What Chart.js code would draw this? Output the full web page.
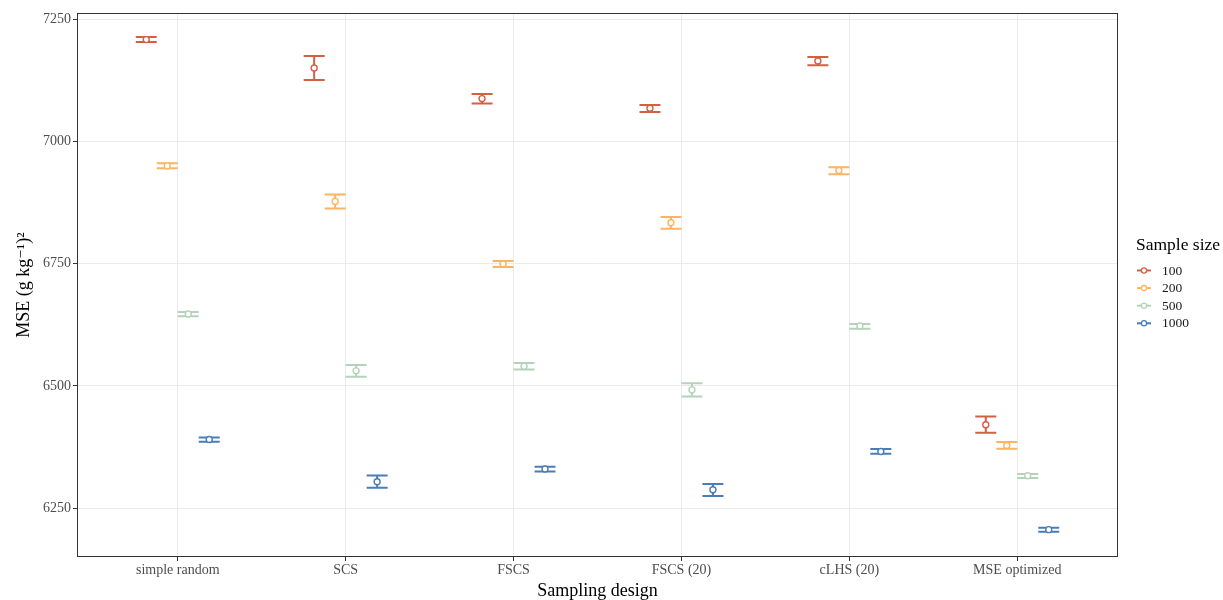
<!DOCTYPE html>
<html>
<head>
<meta charset="utf-8">
<title>MSE by sampling design</title>
<script src="https://cdn.jsdelivr.net/npm/chart.js@4/dist/chart.umd.min.js"></script>
<style>
  html, body { margin: 0; padding: 0; background: #ffffff; }
  #wrap { width: 1223px; height: 600px; }
</style>
</head>
<body>
<div id="wrap"><canvas id="chart" width="1223" height="600"></canvas></div>
<script>
// Sampling designs on the x axis
const categories = ['simple random', 'SCS', 'FSCS', 'FSCS (20)', 'cLHS (20)', 'MSE optimized'];
// Sample sizes (one series each)
const sampleSizes = ['100', '200', '500', '1000'];
const seriesColors = ['#d35f45', '#fdb462', '#b5d2ba', '#4a7db5'];

// Mean MSE and interval bounds per design, one set per sample size
const mean100  = [7208.5, 7150.3, 7087.8, 7068.0, 7164.6, 6420.3];
const lower100 = [7203.4, 7125.8, 7077.6, 7060.4, 7155.8, 6404.0];
const upper100 = [7213.6, 7174.8, 7097.2, 7074.7, 7172.8, 6437.3];

const mean200  = [6950.0, 6877.4, 6749.3, 6833.6, 6940.7, 6378.0];
const lower200 = [6945.4, 6863.1, 6743.1, 6821.4, 6933.1, 6371.3];
const upper200 = [6955.6, 6891.7, 6755.4, 6845.3, 6947.4, 6385.0];

const mean500  = [6647.0, 6530.7, 6540.3, 6491.8, 6622.6, 6316.1];
const lower500 = [6642.4, 6518.4, 6533.3, 6478.2, 6617.0, 6311.4];
const upper500 = [6651.0, 6542.9, 6547.0, 6505.5, 6626.7, 6319.6];

const mean1000  = [6390.3, 6303.9, 6329.8, 6287.5, 6365.8, 6205.8];
const lower1000 = [6385.6, 6291.6, 6325.0, 6274.7, 6361.0, 6201.3];
const upper1000 = [6394.4, 6316.8, 6334.5, 6299.2, 6370.7, 6209.9];

// Y axis tick labels
const yTicks = [6250, 6500, 6750, 7000, 7250];

const means  = [mean100, mean200, mean500, mean1000];
const lowers = [lower100, lower200, lower500, lower1000];
const uppers = [upper100, upper200, upper500, upper1000];

// Dodge layout: four groups share half a category slot
const dodgeWidth = 0.5;
const groupWidth = dodgeWidth / sampleSizes.length;
const offsetFor = k => (k - (sampleSizes.length - 1) / 2) * groupWidth;

const SERIF = '"Liberation Serif", "DejaVu Serif", serif';

const datasets = sampleSizes.map((label, k) => ({
  label: label,
  data: categories.map((c, i) => ({ x: i + 1 + offsetFor(k), y: means[k][i] })),
  lower: lowers[k],
  upper: uppers[k],
  borderColor: seriesColors[k],
  backgroundColor: '#ffffff',
  pointRadius: 3,
  pointBorderWidth: 1.4,
  pointHoverRadius: 3,
  showLine: false
}));

// Draws the vertical interval and its caps beneath each point
const errorBars = {
  id: 'errorBars',
  beforeDatasetsDraw(chart) {
    const ctx = chart.ctx;
    const xs = chart.scales.x, ys = chart.scales.y;
    const capHalf = (xs.getPixelForValue(groupWidth) - xs.getPixelForValue(0)) / 2;
    ctx.save();
    chart.data.datasets.forEach((ds, k) => {
      ctx.strokeStyle = ds.borderColor;
      ctx.lineWidth = 2;
      ctx.lineCap = 'butt';
      ds.data.forEach((pt, i) => {
        const px = xs.getPixelForValue(pt.x);
        const yl = ys.getPixelForValue(ds.lower[i]);
        const yu = ys.getPixelForValue(ds.upper[i]);
        ctx.beginPath();
        ctx.moveTo(px, yu); ctx.lineTo(px, yl);
        ctx.moveTo(px - capHalf, yu); ctx.lineTo(px + capHalf, yu);
        ctx.moveTo(px - capHalf, yl); ctx.lineTo(px + capHalf, yl);
        ctx.stroke();
      });
    });
    ctx.restore();
  }
};

// Panel border and the sample-size key on the right
const panelAndKey = {
  id: 'panelAndKey',
  afterDraw(chart) {
    const ctx = chart.ctx;
    const a = chart.chartArea;
    ctx.save();
    ctx.strokeStyle = '#333333';
    ctx.lineWidth = 1;
    ctx.strokeRect(Math.round(a.left) + 0.5, Math.round(a.top) + 0.5,
                   Math.round(a.right - a.left) - 1, Math.round(a.bottom - a.top) - 1);

    const kx = a.right + 18;
    ctx.fillStyle = '#000000';
    ctx.font = '17.5px ' + SERIF;
    ctx.textBaseline = 'alphabetic';
    ctx.textAlign = 'left';
    ctx.fillText('Sample size', kx, 250);

    ctx.font = '13.5px ' + SERIF;
    ctx.textBaseline = 'middle';
    sampleSizes.forEach((label, k) => {
      const y = 270.5 + k * 17.6;
      ctx.strokeStyle = seriesColors[k];
      ctx.lineWidth = 2;
      ctx.beginPath();
      ctx.moveTo(kx + 1, y); ctx.lineTo(kx + 15, y);
      ctx.stroke();
      ctx.beginPath();
      ctx.arc(kx + 8, y, 2.6, 0, Math.PI * 2);
      ctx.fillStyle = '#ffffff';
      ctx.fill();
      ctx.lineWidth = 1.3;
      ctx.stroke();
      ctx.fillStyle = '#1a1a1a';
      ctx.fillText(label, kx + 26, y + 0.5);
    });
    ctx.restore();
  }
};

new Chart(document.getElementById('chart'), {
  type: 'scatter',
  data: { datasets: datasets },
  plugins: [errorBars, panelAndKey],
  options: {
    responsive: false,
    animation: false,
    events: [],
    layout: { padding: { left: 0, right: 105, top: 13, bottom: 0 } },
    plugins: {
      legend: { display: false },
      tooltip: { enabled: false }
    },
    scales: {
      x: {
        type: 'linear',
        min: 0.4,
        max: categories.length + 0.6,
        afterBuildTicks(scale) {
          scale.ticks = categories.map((c, i) => ({ value: i + 1 }));
        },
        afterFit(scale) { scale.height = 43; },
        ticks: {
          autoSkip: false,
          maxRotation: 0,
          padding: 1,
          color: '#4d4d4d',
          font: { family: SERIF, size: 14 },
          callback: (v) => categories[Math.round(v) - 1]
        },
        grid: {
          color: '#ebebeb',
          lineWidth: 1,
          tickLength: 4,
          tickColor: '#333333'
        },
        border: { display: false },
        title: {
          display: true,
          text: 'Sampling design',
          color: '#000000',
          font: { family: SERIF, size: 18, lineHeight: 1 },
          padding: { top: 0, bottom: 0 }
        }
      },
      y: {
        min: 6149.8,
        max: 7262.9,
        afterBuildTicks(scale) {
          scale.ticks = yTicks.map(v => ({ value: v }));
        },
        afterFit(scale) { scale.width = 77; },
        ticks: {
          padding: 2,
          color: '#4d4d4d',
          font: { family: SERIF, size: 14 },
          callback: (v) => String(v)
        },
        grid: {
          color: '#ebebeb',
          lineWidth: 1,
          tickLength: 4,
          tickColor: '#333333'
        },
        border: { display: false },
        title: {
          display: true,
          text: 'MSE (g kg\u207B\u00B9)\u00B2',
          color: '#000000',
          font: { family: SERIF, size: 18, lineHeight: 1.2 },
          padding: { top: 13, bottom: 0 }
        }
      }
    }
  }
});
</script>
</body>
</html>
